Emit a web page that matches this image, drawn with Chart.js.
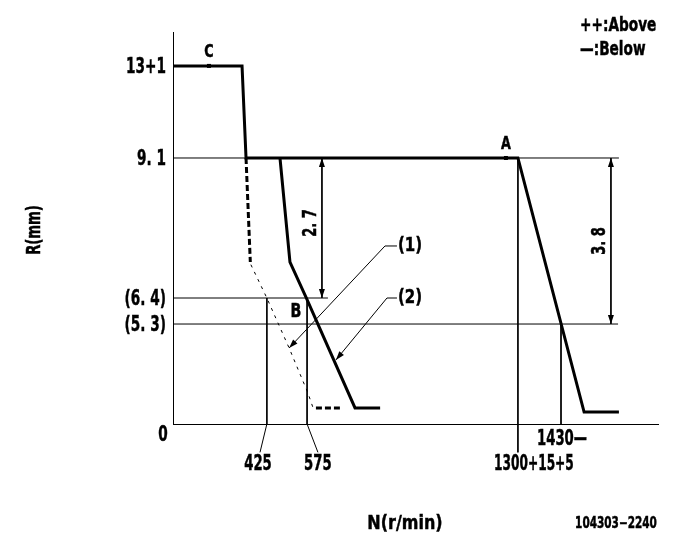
<!DOCTYPE html>
<html>
<head>
<meta charset="utf-8">
<script src="https://cdn.jsdelivr.net/npm/chart.js@4.4.1/dist/chart.umd.min.js"></script>
<style>
  html, body { margin: 0; padding: 0; background: #fff; }
  #wrap { width: 685px; height: 549px; }
</style>
</head>
<body>
<div id="wrap"><canvas id="govChart" width="685" height="549"></canvas></div>
<script>
// Drawing is schematic: N and R are in drawing units,
// tick labels carry the printed values.

// main governor curve (thick solid)
const mainN = [0, 242, 256, 1209, 1441, 1563];
const mainR = [12.25, 12.25, 9.1, 9.1, 0.41, 0.41];

// curve (2), thick solid
const curve2N = [375, 410, 466, 638, 726];
const curve2R = [9.1, 5.54, 4.34, 0.55, 0.55];

// curve (1), dashed: thick upper part, thin middle, thick foot
const curve1TopN = [256, 271];
const curve1TopR = [9.1, 5.54];
const curve1MidN = [273, 329, 407, 473, 491];
const curve1MidR = [5.45, 4.31, 2.6, 1.06, 0.55];
const curve1FootN = [501, 585];
const curve1FootR = [0.55, 0.55];

// y ticks (position, printed label)
const yTickPos = [12.25, 9.1, 4.31, 3.42];
const yTickLabels = ['13+1', '9. 1', '(6. 4)', '(5. 3)'];

// reference lines
const refRowR = [9.1, 4.31, 3.42];
const refRowEndN = [1563, 543, 1560];

// x marks: line top, label text
const xMarkN = [329, 470, 1209, 1360];
const xMarkTopR = [4.31, 4.31, 9.1, 3.42];
const xMarkLeadN = [305, 508, 1209, null];
const xMarkLabels = ['425', '575', '1300+15+5', '1430\u2014'];

// dimensions
const dimN = [522, 1535];
const dimTopR = [9.1, 9.1];
const dimBotR = [4.31, 3.42];
const dimLabels = ['2. 7', '3. 8'];

// points C, A, B
const pointNames = ['C', 'A', 'B'];
const pointN = [126, 1167, 431];
const pointR = [12.25, 9.1, 3.83];

// leaders (1) and (2): corner, knee, tip
const leaderNames = ['(1)', '(2)'];
const leaderN = [[785, 743, 407], [785, 750, 571]];
const leaderR = [[6.09, 6.09, 2.6], [4.31, 4.31, 2.19]];

const FONT = '"DejaVu Sans", sans-serif';

function pts(ns, rs) {
    return ns.map((n, i) => ({ x: n, y: rs[i] }));
}

function line(data, width, dash) {
    return {
        data: data,
        showLine: true,
        borderColor: '#000',
        borderWidth: width,
        borderDash: dash || [],
        pointRadius: 0,
        tension: 0,
        clip: false
    };
}

const datasets = [];

// thin reference rows
refRowR.forEach((r, i) => {
    datasets.push(line(pts([0, refRowEndN[i]], [r, r]), 1));
});

// thin verticals with leaders below the axis
xMarkN.forEach((n, i) => {
    const ns = [n, n];
    const rs = [xMarkTopR[i], 0];
    if (xMarkLeadN[i] !== null) {
        ns.push(xMarkLeadN[i]);
        rs.push(-0.97);
    }
    datasets.push(line(pts(ns, rs), 1));
});

// dimension lines
dimN.forEach((n, i) => {
    datasets.push(line(pts([n, n], [dimTopR[i], dimBotR[i]]), 1));
});

// leaders
leaderN.forEach((ns, i) => {
    datasets.push(line(pts(ns, leaderR[i]), 1));
});

// curves
datasets.push(line(pts(curve1TopN, curve1TopR), 3, [6, 3]));
datasets.push(line(pts(curve1MidN, curve1MidR), 1, [3, 5]));
datasets.push(line(pts(curve1FootN, curve1FootR), 3, [6, 3]));
datasets.push(line(pts(curve2N, curve2R), 3));
datasets.push(line(pts(mainN, mainR), 3));

function arrowHead(ctx, x0, y0, x1, y1) {
    const a = Math.atan2(y1 - y0, x1 - x0);
    const len = 9, half = 3;
    ctx.beginPath();
    ctx.moveTo(x1, y1);
    ctx.lineTo(x1 - len * Math.cos(a) + half * Math.sin(a), y1 - len * Math.sin(a) - half * Math.cos(a));
    ctx.lineTo(x1 - len * Math.cos(a) - half * Math.sin(a), y1 - len * Math.sin(a) + half * Math.cos(a));
    ctx.closePath();
    ctx.fill();
}

// squeezed bold text, like the narrow gothic on the sheet
function say(ctx, str, x, y, size, align, sx, rot) {
    ctx.save();
    ctx.translate(x, y);
    if (rot) ctx.rotate(rot);
    ctx.scale(sx, 1);
    ctx.font = 'bold ' + size + 'px ' + FONT;
    ctx.textAlign = align;
    ctx.textBaseline = 'middle';
    ctx.lineWidth = 0.5;
    ctx.strokeStyle = '#000';
    ctx.fillText(str, 0, 0);
    ctx.strokeText(str, 0, 0);
    ctx.restore();
}

const sheetText = {
    id: 'sheetText',
    afterDatasetsDraw(chart) {
        const ctx = chart.ctx;
        const xs = chart.scales.x;
        const ys = chart.scales.y;
        const px = v => xs.getPixelForValue(v);
        const py = v => ys.getPixelForValue(v);

        ctx.save();
        ctx.fillStyle = '#000';

        // y tick labels
        yTickPos.forEach((v, i) => {
            say(ctx, yTickLabels[i], xs.left - 7, py(v) + 1, 22, 'right', 0.62);
        });
        say(ctx, '0', xs.left - 10, py(0) + 11, 22, 'center', 0.62);

        // x labels
        say(ctx, xMarkLabels[0], px(xMarkLeadN[0]) - 2, py(0) + 41, 21, 'center', 0.63);
        say(ctx, xMarkLabels[1], px(xMarkLeadN[1]), py(0) + 41, 21, 'center', 0.63);
        say(ctx, xMarkLabels[2], px(xMarkN[2]) + 16, py(0) + 41, 21, 'center', 0.58);
        say(ctx, xMarkLabels[3], px(xMarkN[3]) - 24, py(0) + 16, 21, 'left', 0.63);

        // dimension arrows and labels
        dimN.forEach((n, i) => {
            const x = px(n), yt = py(dimTopR[i]), yb = py(dimBotR[i]);
            arrowHead(ctx, x, yt + 20, x, yt);
            arrowHead(ctx, x, yb - 20, x, yb);
            say(ctx, dimLabels[i], x - 11, i === 0 ? (yt + yb) / 2 - 5 : (yt + yb) / 2, 20, 'center', 0.65, -Math.PI / 2);
        });

        // leaders
        leaderN.forEach((ns, i) => {
            const rs = leaderR[i];
            arrowHead(ctx, px(ns[1]), py(rs[1]), px(ns[2]), py(rs[2]));
            say(ctx, leaderNames[i], px(ns[0]) + 1, py(rs[0]), 20, 'left', 0.75);
        });

        // points
        pointNames.forEach((name, i) => {
            const x = px(pointN[i]), y = py(pointR[i]);
            if (name === 'B') {
                say(ctx, name, x, y, 19, 'center', 0.75);
            } else {
                ctx.fillRect(x - 2, y - 2, 4, 4);
                say(ctx, name, x, y - 13, 17, 'center', 0.75);
            }
        });

        // axis titles and notes
        say(ctx, 'N(r/min)', 405, 524, 20, 'center', 0.8);
        say(ctx, 'R(mm)', 35, 230, 20, 'center', 0.66, -Math.PI / 2);
        say(ctx, '++:Above', 580, 26, 19, 'left', 0.72);
        say(ctx, '\u2014:Below', 580, 50, 19, 'left', 0.72);
        say(ctx, '104303\u22122240', 616, 524, 15, 'center', 0.7);

        ctx.restore();
    }
};

new Chart(document.getElementById('govChart'), {
    type: 'scatter',
    data: { datasets: datasets },
    options: {
        responsive: false,
        animation: false,
        events: [],
        layout: { padding: { left: 173, top: 32, right: 27, bottom: 125 } },
        plugins: {
            legend: { display: false },
            tooltip: { enabled: false }
        },
        scales: {
            x: {
                type: 'linear',
                min: 0,
                max: 1700,
                ticks: { display: false },
                grid: { display: false, drawTicks: false },
                border: { display: true, color: '#000', width: 1 }
            },
            y: {
                type: 'linear',
                min: 0,
                max: 13.41,
                ticks: { display: false },
                grid: { display: false, drawTicks: false },
                border: { display: true, color: '#000', width: 1 }
            }
        }
    },
    plugins: [sheetText]
});
</script>
</body>
</html>
